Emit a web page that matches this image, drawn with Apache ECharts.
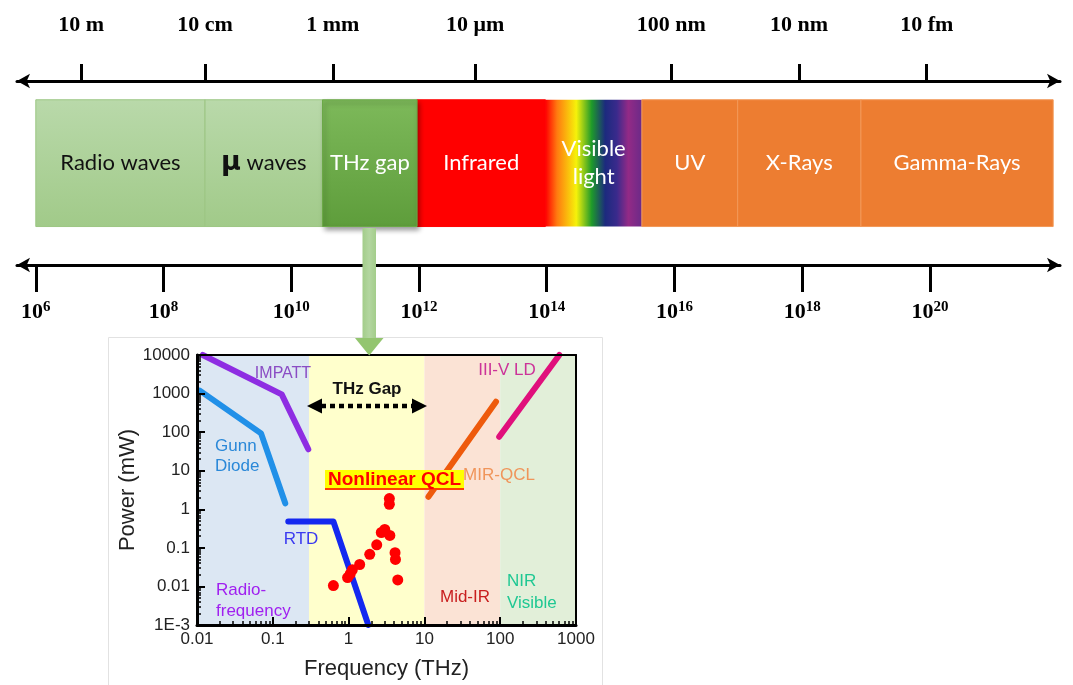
<!DOCTYPE html>
<html>
<head>
<meta charset="utf-8">
<script src="https://cdn.jsdelivr.net/npm/echarts@6/dist/echarts.min.js"></script>
<style>
html, body { margin: 0; padding: 0; background: #fff; }
#chart { width: 1073px; height: 685px; }
</style>
</head>
<body>
<div id="chart"></div>
<script>
// ---- Electromagnetic spectrum (schematic, position = log10 of frequency in Hz) ----
const bandNames = ['Radio waves', 'μ waves', 'THz gap', 'Infrared', 'Visible\nlight', 'UV', 'X-Rays', 'Gamma-Rays'];
const bandEdges = [6.0, 8.65, 10.49, 11.97, 13.98, 15.49, 16.99, 18.92, 21.93];
const freqTickExp = [6, 8, 10, 12, 14, 16, 18, 20];
const waveTickPos = [6.71, 8.65, 10.65, 12.88, 15.95, 17.95, 19.95];
const waveTickLabels = ['10 m', '10 cm', '1 mm', '10 μm', '100 nm', '10 nm', '10 fm'];

// ---- Source output power vs frequency (frequency in THz, power in mW) ----
const freqTickLabels = ['0.01', '0.1', '1', '10', '100', '1000'];
const powerTickLabels = ['1E-3', '0.01', '0.1', '1', '10', '100', '1000', '10000'];
const regionEdges = [0.01, 0.3, 10, 100, 1000];

const impattFreq = [0.0119, 0.131, 0.294];
const impattPower = [10000, 950, 36];
const gunnFreq = [0.0109, 0.07, 0.146];
const gunnPower = [1190, 93, 1.43];
const rtdFreq = [0.16, 0.63, 1.82];
const rtdPower = [0.48, 0.48, 0.001];
const mirQclFreq = [11.3, 88];
const mirQclPower = [2.1, 615];
const laserFreq = [97, 603];
const laserPower = [76, 10000];
const nlQclFreq = [0.63, 0.97, 1.05, 1.12, 1.4, 1.9, 2.35, 2.7, 3.0, 3.45, 3.45, 3.5, 4.1, 4.15, 4.45];
const nlQclPower = [0.0105, 0.017, 0.021, 0.027, 0.037, 0.068, 0.12, 0.25, 0.3, 1.9, 1.35, 0.21, 0.075, 0.05, 0.0147];

// ---- styling ----
const LG = echarts.graphic.LinearGradient;
const lightGreen = () => new LG(0, 0, 0, 1, [{ offset: 0, color: '#b9d9aa' }, { offset: 1, color: '#a1ca89' }]);
const orange = '#ed7d31';
const bandStyle = {
  'Radio waves': { fill: lightGreen(), edge: '#9cc684', text: '#111' },
  'μ waves': { fill: lightGreen(), edge: '#9cc684', text: '#111', label: '{m|μ} waves',
               rich: { m: { fontFamily: 'DejaVu Sans', fontWeight: 'bold', fontSize: 27, fill: '#111' } } },
  'THz gap': { fill: new LG(0, 0, 0, 1, [{ offset: 0, color: '#7db95a' }, { offset: 1, color: '#5e9d3b' }]),
               edge: '#6aa846', text: '#fff', raised: true },
  'Infrared': { fill: '#ff0000', edge: '#ff0000', text: '#fff' },
  'Visible\nlight': { fill: new LG(0, 0, 1, 0, [
      { offset: 0, color: '#ff0000' }, { offset: 0.12, color: '#ff7a10' }, { offset: 0.32, color: '#f6f20a' },
      { offset: 0.48, color: '#1e9a2a' }, { offset: 0.62, color: '#1c2a7e' }, { offset: 0.74, color: '#3a2a8c' },
      { offset: 0.86, color: '#932a86' }, { offset: 1, color: '#6b2a88' }]), edge: null, text: '#fff' },
  'UV': { fill: orange, edge: '#f29857', text: '#fff' },
  'X-Rays': { fill: orange, edge: '#f29857', text: '#fff' },
  'Gamma-Rays': { fill: orange, edge: '#f29857', text: '#fff' }
};
const regionColors = ['#dce7f3', '#ffffcc', '#fbe3d5', '#e2efd9'];

const BAND_TOP = 0.898, BAND_BOTTOM = 0.209;
const SANS = 'Liberation Sans';

function renderBand(params, api) {
  const name = bandNames[params.dataIndex];
  const s = bandStyle[name];
  const a = api.coord([api.value(0), BAND_TOP]);
  const b = api.coord([api.value(1), BAND_BOTTOM]);
  return {
    type: 'group',
    children: [
      { type: 'rect', z2: s.raised ? 10 : 1,
        shape: { x: a[0], y: a[1], width: b[0] - a[0], height: b[1] - a[1] },
        style: { fill: s.fill, stroke: s.edge, lineWidth: s.edge ? 1 : 0,
                 shadowBlur: s.raised ? 5 : 0, shadowOffsetX: s.raised ? 2 : 0, shadowOffsetY: s.raised ? 3 : 0,
                 shadowColor: 'rgba(0,0,0,0.4)' } },
      { type: 'text', z2: 20, x: (a[0] + b[0]) / 2, y: (a[1] + b[1]) / 2,
        style: { text: s.label || name, fill: s.text, fontFamily: 'Lato', fontSize: 22, lineHeight: 28,
                 align: 'center', verticalAlign: 'middle', rich: s.rich } }
    ]
  };
}

function renderRegion(params, api) {
  const a = api.coord([api.value(0), 4]);
  const b = api.coord([api.value(1), -3]);
  return { type: 'rect', shape: { x: a[0], y: a[1], width: b[0] - a[0], height: b[1] - a[1] },
           style: { fill: regionColors[params.dataIndex] } };
}

const toLog = (xs, ys) => xs.map((x, i) => [Math.log10(x), Math.log10(ys[i])]);
function minorTicks(lo, hi) {
  const out = [];
  for (let d = lo; d < hi; d++) for (let k = 2; k <= 9; k++) out.push(Math.log10(k) + d);
  return out;
}
const waveLabelFor = v => {
  const i = waveTickPos.findIndex(p => Math.abs(p - v) < 1e-6);
  return i >= 0 ? waveTickLabels[i] : '';
};

const specMin = 5.7056, specMax = 22.037;
const blackLine = { color: '#000', width: 3 };

const lineSeries = (name, xs, ys, color) => ({
  type: 'line', name, xAxisIndex: 2, yAxisIndex: 1, z: 3, clip: false,
  data: toLog(xs, ys), symbol: 'none', silent: true,
  lineStyle: { color, width: 6, cap: 'round', join: 'round' }
});

const annoText = (text, x, y, color, extra) => Object.assign({
  type: 'text', x, y, z: 100,
  style: Object.assign({ text, fill: color, fontFamily: SANS, fontSize: 17, align: 'center', verticalAlign: 'middle', lineHeight: 21 }, extra || {})
});

const option = {
  backgroundColor: '#fff',
  animation: false,
  grid: [
    { left: 17, right: 13, top: 81, height: 184 },
    { left: 197, top: 355, width: 379, height: 270 }
  ],
  xAxis: [
    { gridIndex: 0, type: 'value', position: 'top', min: specMin, max: specMax,
      axisLine: { onZero: false, lineStyle: blackLine, symbol: ['arrow', 'arrow'], symbolSize: [11, 13] },
      axisTick: { customValues: waveTickPos, length: 17, lineStyle: { color: '#000', width: 3 } },
      axisLabel: { customValues: waveTickPos, formatter: waveLabelFor, margin: 45,
                   fontFamily: 'Liberation Serif', fontWeight: 'bold', fontSize: 22, color: '#000' },
      splitLine: { show: false } },
    { gridIndex: 0, type: 'value', position: 'bottom', min: specMin, max: specMax,
      axisLine: { onZero: false, lineStyle: blackLine, symbol: ['arrow', 'arrow'], symbolSize: [11, 13] },
      axisTick: { customValues: freqTickExp, length: 27, lineStyle: { color: '#000', width: 3 } },
      axisLabel: { customValues: freqTickExp, margin: 35,
                   formatter: v => '{b|10}{s|' + Math.round(v) + '}',
                   rich: { b: { fontFamily: 'Liberation Serif', fontWeight: 'bold', fontSize: 22, lineHeight: 24, color: '#000' },
                           s: { fontFamily: 'Liberation Serif', fontWeight: 'bold', fontSize: 15, lineHeight: 15, verticalAlign: 'top', color: '#000' } } },
      splitLine: { show: false } },
    { gridIndex: 1, type: 'value', position: 'bottom', min: -2, max: 3, interval: 1, z: 10,
      axisLine: { onZero: false, lineStyle: blackLine },
      axisTick: { inside: true, length: 8, lineStyle: { color: '#000', width: 2 } },
      axisLabel: { formatter: v => freqTickLabels[Math.round(v) + 2], margin: 6, fontFamily: SANS, fontSize: 17, color: '#222' },
      splitLine: { show: false },
      name: 'Frequency (THz)', nameLocation: 'middle', nameGap: 33,
      nameTextStyle: { fontFamily: SANS, fontSize: 22, color: '#222' } },
    { gridIndex: 1, type: 'value', position: 'bottom', min: -2, max: 3, z: 10,
      axisLine: { show: false, onZero: false },
      axisTick: { inside: true, length: 4, customValues: minorTicks(-2, 3), lineStyle: { color: '#000', width: 1.5 } },
      axisLabel: { show: false }, splitLine: { show: false } },
    { gridIndex: 1, type: 'value', position: 'top', min: -2, max: 3, z: 10,
      axisLine: { onZero: false, lineStyle: { color: '#000', width: 2 } },
      axisTick: { show: false }, axisLabel: { show: false }, splitLine: { show: false } }
  ],
  yAxis: [
    { gridIndex: 0, type: 'value', min: 0, max: 1, show: false },
    { gridIndex: 1, type: 'value', min: -3, max: 4, interval: 1, z: 10,
      axisLine: { onZero: false, lineStyle: blackLine },
      axisTick: { inside: true, length: 8, lineStyle: { color: '#000', width: 2 } },
      axisLabel: { formatter: v => powerTickLabels[Math.round(v) + 3], margin: 7, fontFamily: SANS, fontSize: 17, color: '#222' },
      splitLine: { show: false },
      name: 'Power (mW)', nameLocation: 'middle', nameGap: 48, nameRotate: 90,
      nameTextStyle: { fontFamily: SANS, fontSize: 22, color: '#222' } },
    { gridIndex: 1, type: 'value', min: -3, max: 4, z: 10, position: 'left',
      axisLine: { show: false, onZero: false },
      axisTick: { inside: true, length: 4, customValues: minorTicks(-3, 4), lineStyle: { color: '#000', width: 1.5 } },
      axisLabel: { show: false }, splitLine: { show: false } },
    { gridIndex: 1, type: 'value', min: -3, max: 4, z: 10, position: 'right',
      axisLine: { onZero: false, lineStyle: { color: '#000', width: 2 } },
      axisTick: { show: false }, axisLabel: { show: false }, splitLine: { show: false } }
  ],
  series: [
    { type: 'custom', name: 'spectrum', xAxisIndex: 1, yAxisIndex: 0, silent: true,
      data: bandNames.map((n, i) => [bandEdges[i], bandEdges[i + 1]]),
      encode: { x: [0, 1] }, renderItem: renderBand },
    { type: 'custom', name: 'regions', xAxisIndex: 2, yAxisIndex: 1, z: 1, silent: true,
      data: regionEdges.slice(0, -1).map((e, i) => [Math.log10(e), Math.log10(regionEdges[i + 1])]),
      encode: { x: [0, 1] }, renderItem: renderRegion },
    lineSeries('IMPATT', impattFreq, impattPower, '#8e2de2'),
    lineSeries('Gunn Diode', gunnFreq, gunnPower, '#2190e8'),
    lineSeries('RTD', rtdFreq, rtdPower, '#1428f0'),
    lineSeries('MIR-QCL', mirQclFreq, mirQclPower, '#ee5a0c'),
    lineSeries('III-V LD', laserFreq, laserPower, '#e0107c'),
    { type: 'scatter', name: 'Nonlinear QCL', xAxisIndex: 2, yAxisIndex: 1, z: 4, silent: true,
      data: toLog(nlQclFreq, nlQclPower), symbol: 'circle', symbolSize: 11,
      itemStyle: { color: '#ff0000', opacity: 1 } }
  ],
  graphic: [
    // light frame around the inset plot
    { type: 'rect', z: 0, shape: { x: 108.5, y: 337.5, width: 494, height: 360 },
      style: { fill: 'none', stroke: '#e2e2e2', lineWidth: 1 } },
    // arrow from the THz band down to the inset
    { type: 'rect', z: 50, shape: { x: 362.5, y: 228, width: 13.5, height: 111 },
      style: { fill: new LG(1, 0, 0, 0, [{ offset: 0, color: '#a3cd8a' }, { offset: 0.5, color: '#b3d6a0' }, { offset: 1, color: '#a3cd8a' }]) } },
    { type: 'polygon', z: 50, shape: { points: [[355, 338], [383.5, 338], [369.2, 355.5]] },
      style: { fill: '#93c56f' } },
    // inset annotations
    annoText('IMPATT', 283, 374, '#8a4cc4', { fontSize: 16 }),
    annoText('Gunn\nDiode', 215, 456, '#2a88d8', { align: 'left', lineHeight: 20 }),
    annoText('RTD', 301, 539, '#3a3af0'),
    annoText('Radio-\nfrequency', 216, 601, '#a020f0', { align: 'left' }),
    annoText('THz Gap', 367, 389, '#111', { fontWeight: 'bold', fontSize: 17 }),
    { type: 'line', z: 100, shape: { x1: 321, y1: 406, x2: 413, y2: 406 },
      style: { stroke: '#000', lineWidth: 4.5, lineDash: [5, 4] } },
    { type: 'polygon', z: 100, shape: { points: [[307, 406], [322, 398.5], [322, 413.5]] }, style: { fill: '#000' } },
    { type: 'polygon', z: 100, shape: { points: [[427, 406], [412, 398.5], [412, 413.5]] }, style: { fill: '#000' } },
    { type: 'rect', z: 100, shape: { x: 325, y: 470, width: 139, height: 20 }, style: { fill: '#ffff00' } },
    annoText('Nonlinear QCL', 394.5, 480, '#ff0000', { fontWeight: 'bold', fontSize: 19 }),
    { type: 'line', z: 101, shape: { x1: 325, y1: 489, x2: 464, y2: 489 }, style: { stroke: '#ff0000', lineWidth: 1.5 } },
    annoText('MIR-QCL', 499, 475, '#f0955a'),
    annoText('III-V LD', 507, 370, '#cc3399'),
    annoText('Mid-IR', 465, 597, '#c81e1e'),
    annoText('NIR\nVisible', 507, 592.5, '#1fc893', { align: 'left', lineHeight: 21.5 })
  ]
};

const chart = echarts.init(document.getElementById('chart'), null, { renderer: 'canvas' });
chart.setOption(option);
</script>
</body>
</html>
